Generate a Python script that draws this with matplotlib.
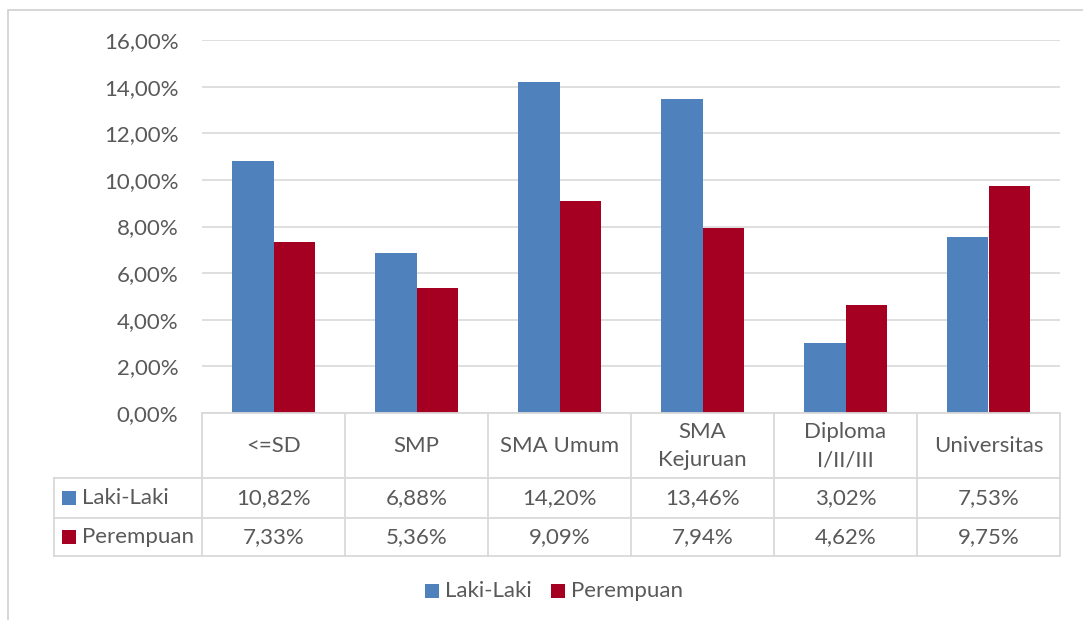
import matplotlib
matplotlib.use("Agg")
import matplotlib.pyplot as plt
from matplotlib.patches import Rectangle
from matplotlib.lines import Line2D

categories = ["<=SD", "SMP", "SMA Umum", "SMA\nKejuruan", "Diploma\nI/II/III", "Universitas"]
series_names = ["Laki-Laki", "Perempuan"]
laki = [10.82, 6.88, 14.20, 13.46, 3.02, 7.53]
perempuan = [7.33, 5.36, 9.09, 7.94, 4.62, 9.75]
yticks = [0, 2, 4, 6, 8, 10, 12, 14, 16]
colors = ["#4F81BD", "#A50021"]
TXT = "#595959"
GRID = "#D9D9D9"
FONT = "Lato"
FS = 16

W, H = 1083, 620
fig = plt.figure(figsize=(W / 100, H / 100), dpi=100)
plt.rcParams['font.family'] = [FONT, 'DejaVu Sans']

def fx(px):
    return px / W

def fy(py):
    return 1 - py / H

# chart frame
fig.patches.append(Rectangle((fx(8), fy(640)), fx(1100) - fx(8), fy(10) - fy(640),
                             transform=fig.transFigure, facecolor="white",
                             edgecolor="#D0D0D0", linewidth=1.2, zorder=-10))

# plot area
L, R, T, B = 202, 1060, 40, 413
ax = fig.add_axes([fx(L), fy(B), fx(R) - fx(L), fy(T) - fy(B)])
ax.set_facecolor("none")
n = len(categories)
x = list(range(n))
bw = 0.287
ax.bar([i - bw / 2 for i in x], laki, width=bw, color=colors[0], zorder=3)
ax.bar([i + bw / 2 for i in x], perempuan, width=bw, color=colors[1], zorder=3)
ax.set_xlim(-0.5, n - 0.5)
ax.set_ylim(0, 16)
ax.set_yticks(yticks)
ax.set_yticklabels([f"{v:.2f}%".replace(".", ",") for v in yticks], fontsize=FS, color=TXT)
ax.tick_params(axis="y", length=0, pad=17)
ax.set_xticks([])
ax.yaxis.grid(True, color=GRID, linewidth=1.2, zorder=0)
ax.set_axisbelow(True)
for s in ax.spines.values():
    s.set_visible(False)

# data table
TL = 54
rows_y = [413, 478, 518, 556]
tax = fig.add_axes([fx(TL), fy(rows_y[-1]), fx(R) - fx(TL), fy(rows_y[0]) - fy(rows_y[-1])])
left_edge = -0.5 - (L - TL) / ((R - L) / n)
tax.set_xlim(left_edge, n - 0.5)
tax.set_ylim(rows_y[-1], rows_y[0])
tax.axis("off")
lw = 1.3
for i in range(n + 1):
    tax.add_line(Line2D([i - 0.5, i - 0.5], [rows_y[0], rows_y[-1]], color=GRID, lw=lw, clip_on=False))
tax.add_line(Line2D([left_edge, left_edge], [rows_y[1], rows_y[-1]], color=GRID, lw=lw, clip_on=False))
tax.add_line(Line2D([-0.5, n - 0.5], [rows_y[0], rows_y[0]], color=GRID, lw=lw, clip_on=False))
for yy in rows_y[1:]:
    tax.add_line(Line2D([left_edge, n - 0.5], [yy, yy], color=GRID, lw=lw, clip_on=False))

for i, c in enumerate(categories):
    tax.text(i, (rows_y[0] + rows_y[1]) / 2 + 1, c, ha="center", va="center",
             fontsize=FS, color=TXT, linespacing=1.5)
for r, (name, vals) in enumerate(zip(series_names, [laki, perempuan])):
    yc = (rows_y[r + 1] + rows_y[r + 2]) / 2
    for i, v in enumerate(vals):
        tax.text(i, yc, f"{v:.2f}%".replace(".", ","), ha="center", va="center",
                 fontsize=FS, color=TXT)
    fig.patches.append(Rectangle((fx(62), fy(yc + 7)), fx(14), fy(0) - fy(14),
                                 transform=fig.transFigure, facecolor=colors[r],
                                 edgecolor="none"))
    fig.text(fx(82), fy(yc), name, ha="left", va="center", fontsize=FS, color=TXT)

# legend
leg_y = 591
for (xpx, name, col) in [(425, series_names[0], colors[0]), (551, series_names[1], colors[1])]:
    fig.patches.append(Rectangle((fx(xpx), fy(leg_y + 7)), fx(14), fy(0) - fy(14),
                                 transform=fig.transFigure, facecolor=col, edgecolor="none"))
    fig.text(fx(xpx + 20), fy(leg_y), name, ha="left", va="center", fontsize=FS, color=TXT)

fig.savefig("out.png", dpi=100, facecolor="white")
